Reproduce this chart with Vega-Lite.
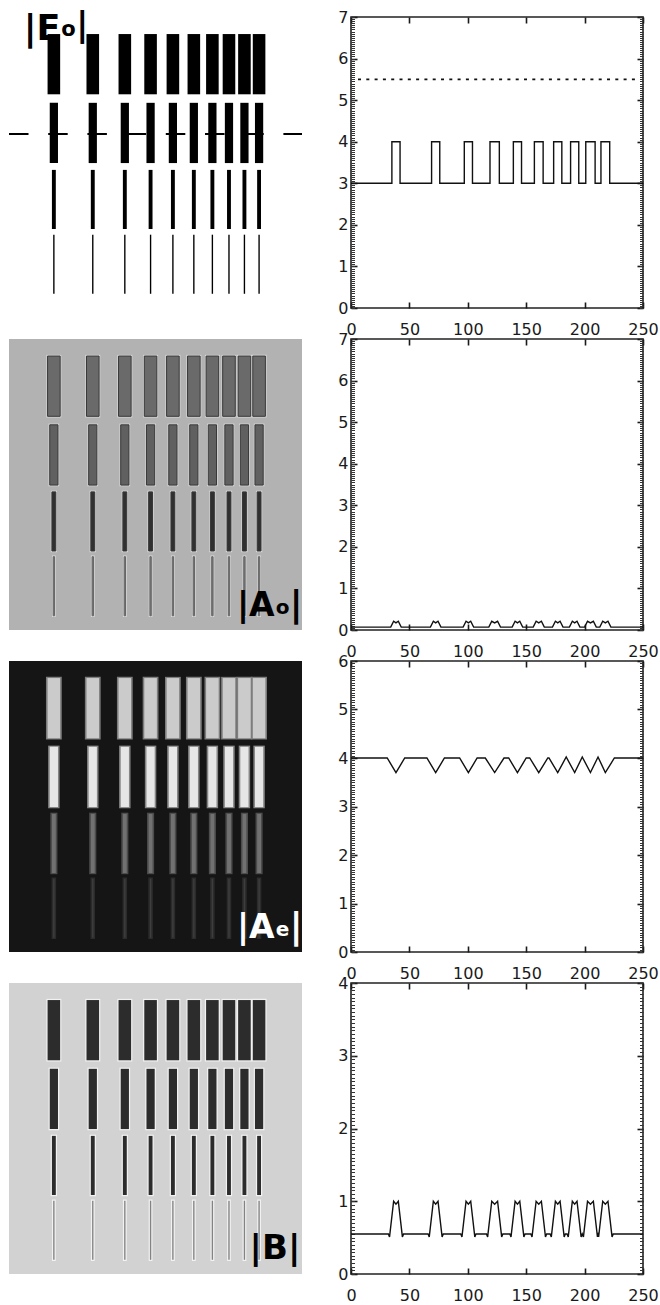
{
"$schema": "https://vega.github.io/schema/vega-lite/v6.json",
"background": "white",
"padding": {"left": 8, "top": 8, "right": 0, "bottom": 0},
"config": {"view": {"stroke": null}, "axis": {"zindex": 1}},
"datasets": {
"bars": [
{"row":1,"col":1,"left":33.7,"right":44.7,"top":15,"bottom":68},
{"row":1,"col":2,"left":67.7,"right":78.7,"top":15,"bottom":68},
{"row":1,"col":3,"left":95.7,"right":106.7,"top":15,"bottom":68},
{"row":1,"col":4,"left":118.2,"right":129.2,"top":15,"bottom":68},
{"row":1,"col":5,"left":137.7,"right":148.7,"top":15,"bottom":68},
{"row":1,"col":6,"left":156.0,"right":167.0,"top":15,"bottom":68},
{"row":1,"col":7,"left":172.2,"right":183.2,"top":15,"bottom":68},
{"row":1,"col":8,"left":186.7,"right":197.7,"top":15,"bottom":68},
{"row":1,"col":9,"left":200.2,"right":211.2,"top":15,"bottom":68},
{"row":1,"col":10,"left":213.0,"right":224.0,"top":15,"bottom":68},
{"row":2,"col":1,"left":35.6,"right":42.8,"top":75.5,"bottom":128.5},
{"row":2,"col":2,"left":69.6,"right":76.8,"top":75.5,"bottom":128.5},
{"row":2,"col":3,"left":97.6,"right":104.8,"top":75.5,"bottom":128.5},
{"row":2,"col":4,"left":120.1,"right":127.3,"top":75.5,"bottom":128.5},
{"row":2,"col":5,"left":139.6,"right":146.8,"top":75.5,"bottom":128.5},
{"row":2,"col":6,"left":157.9,"right":165.1,"top":75.5,"bottom":128.5},
{"row":2,"col":7,"left":174.1,"right":181.3,"top":75.5,"bottom":128.5},
{"row":2,"col":8,"left":188.6,"right":195.8,"top":75.5,"bottom":128.5},
{"row":2,"col":9,"left":202.1,"right":209.3,"top":75.5,"bottom":128.5},
{"row":2,"col":10,"left":214.9,"right":222.1,"top":75.5,"bottom":128.5},
{"row":3,"col":1,"left":37.5,"right":40.9,"top":134.5,"bottom":186.5},
{"row":3,"col":2,"left":71.5,"right":74.9,"top":134.5,"bottom":186.5},
{"row":3,"col":3,"left":99.5,"right":102.9,"top":134.5,"bottom":186.5},
{"row":3,"col":4,"left":122.0,"right":125.4,"top":134.5,"bottom":186.5},
{"row":3,"col":5,"left":141.5,"right":144.9,"top":134.5,"bottom":186.5},
{"row":3,"col":6,"left":159.8,"right":163.2,"top":134.5,"bottom":186.5},
{"row":3,"col":7,"left":176.0,"right":179.4,"top":134.5,"bottom":186.5},
{"row":3,"col":8,"left":190.5,"right":193.9,"top":134.5,"bottom":186.5},
{"row":3,"col":9,"left":204.0,"right":207.4,"top":134.5,"bottom":186.5},
{"row":3,"col":10,"left":216.8,"right":220.2,"top":134.5,"bottom":186.5},
{"row":4,"col":1,"left":38.6,"right":39.8,"top":191.5,"bottom":243.5},
{"row":4,"col":2,"left":72.6,"right":73.8,"top":191.5,"bottom":243.5},
{"row":4,"col":3,"left":100.6,"right":101.8,"top":191.5,"bottom":243.5},
{"row":4,"col":4,"left":123.1,"right":124.3,"top":191.5,"bottom":243.5},
{"row":4,"col":5,"left":142.6,"right":143.8,"top":191.5,"bottom":243.5},
{"row":4,"col":6,"left":160.9,"right":162.1,"top":191.5,"bottom":243.5},
{"row":4,"col":7,"left":177.1,"right":178.3,"top":191.5,"bottom":243.5},
{"row":4,"col":8,"left":191.6,"right":192.8,"top":191.5,"bottom":243.5},
{"row":4,"col":9,"left":205.1,"right":206.3,"top":191.5,"bottom":243.5},
{"row":4,"col":10,"left":217.9,"right":219.1,"top":191.5,"bottom":243.5}
],
"p1": [{"x":0,"y":3},{"x":35,"y":3},{"x":35,"y":4},{"x":42,"y":4},{"x":42,"y":3},{"x":69,"y":3},{"x":69,"y":4},{"x":76,"y":4},{"x":76,"y":3},{"x":97,"y":3},{"x":97,"y":4},{"x":104,"y":4},{"x":104,"y":3},{"x":119,"y":3},{"x":119,"y":4},{"x":127,"y":4},{"x":127,"y":3},{"x":139,"y":3},{"x":139,"y":4},{"x":146,"y":4},{"x":146,"y":3},{"x":157,"y":3},{"x":157,"y":4},{"x":164.5,"y":4},{"x":164.5,"y":3},{"x":173.5,"y":3},{"x":173.5,"y":4},{"x":180.5,"y":4},{"x":180.5,"y":3},{"x":188,"y":3},{"x":188,"y":4},{"x":195,"y":4},{"x":195,"y":3},{"x":201,"y":3},{"x":201,"y":4},{"x":209,"y":4},{"x":209,"y":3},{"x":214,"y":3},{"x":214,"y":4},{"x":221.5,"y":4},{"x":221.5,"y":3},{"x":250,"y":3}],
"p2": [{"x":0,"y":0.07},
{"x":34,"y":0.07},{"x":36.5,"y":0.21},{"x":38.5,"y":0.17},{"x":40.5,"y":0.21},{"x":43,"y":0.07},
{"x":68,"y":0.07},{"x":70.5,"y":0.21},{"x":72.5,"y":0.17},{"x":74.5,"y":0.21},{"x":77,"y":0.07},
{"x":96,"y":0.07},{"x":98.5,"y":0.21},{"x":100.5,"y":0.17},{"x":102.5,"y":0.21},{"x":105,"y":0.07},
{"x":118,"y":0.07},{"x":120.5,"y":0.21},{"x":123,"y":0.17},{"x":125.5,"y":0.21},{"x":128,"y":0.07},
{"x":138,"y":0.07},{"x":140.5,"y":0.21},{"x":142.5,"y":0.17},{"x":144.5,"y":0.21},{"x":147,"y":0.07},
{"x":156,"y":0.07},{"x":158.5,"y":0.21},{"x":160.75,"y":0.17},{"x":163,"y":0.21},{"x":165.5,"y":0.07},
{"x":172.5,"y":0.07},{"x":175,"y":0.21},{"x":177,"y":0.17},{"x":179,"y":0.21},{"x":181.5,"y":0.07},
{"x":187,"y":0.07},{"x":189.5,"y":0.21},{"x":191.5,"y":0.17},{"x":193.5,"y":0.21},{"x":196,"y":0.07},
{"x":200,"y":0.07},{"x":202.5,"y":0.21},{"x":205,"y":0.17},{"x":207.5,"y":0.21},{"x":210,"y":0.07},
{"x":213,"y":0.07},{"x":215.5,"y":0.21},{"x":217.75,"y":0.17},{"x":220,"y":0.21},{"x":222.5,"y":0.07},
{"x":250,"y":0.07}],
"p3": [{"x":0,"y":4},{"x":31,"y":4},{"x":38.5,"y":3.7},{"x":46,"y":4},{"x":65,"y":4},{"x":72.5,"y":3.7},{"x":80,"y":4},{"x":93,"y":4},{"x":100.5,"y":3.7},{"x":108,"y":4},{"x":115,"y":4},{"x":123,"y":3.7},{"x":131,"y":4},{"x":135,"y":4},{"x":142.5,"y":3.7},{"x":150,"y":4},{"x":153,"y":4},{"x":160.75,"y":3.7},{"x":168.5,"y":4},{"x":169.5,"y":4},{"x":177,"y":3.7},{"x":184.25,"y":4.02},{"x":191.5,"y":3.7},{"x":198,"y":4.02},{"x":205,"y":3.7},{"x":211.5,"y":4.02},{"x":217.75,"y":3.7},{"x":225.5,"y":4},{"x":250,"y":4}],
"p4": [{"x":0,"y":0.55},
{"x":32,"y":0.55},{"x":33,"y":0.51},{"x":36.5,"y":1.0},{"x":38.5,"y":0.96},{"x":40.5,"y":1.0},{"x":44,"y":0.51},{"x":45,"y":0.55},
{"x":66,"y":0.55},{"x":67,"y":0.51},{"x":70.5,"y":1.0},{"x":72.5,"y":0.96},{"x":74.5,"y":1.0},{"x":78,"y":0.51},{"x":79,"y":0.55},
{"x":94,"y":0.55},{"x":95,"y":0.51},{"x":98.5,"y":1.0},{"x":100.5,"y":0.96},{"x":102.5,"y":1.0},{"x":106,"y":0.51},{"x":107,"y":0.55},
{"x":116,"y":0.55},{"x":117,"y":0.51},{"x":120.5,"y":1.0},{"x":123,"y":0.96},{"x":125.5,"y":1.0},{"x":129,"y":0.51},{"x":130,"y":0.55},
{"x":136,"y":0.55},{"x":137,"y":0.51},{"x":140.5,"y":1.0},{"x":142.5,"y":0.96},{"x":144.5,"y":1.0},{"x":148,"y":0.51},{"x":149,"y":0.55},
{"x":154,"y":0.55},{"x":155,"y":0.51},{"x":158.5,"y":1.0},{"x":160.75,"y":0.96},{"x":163,"y":1.0},{"x":166.5,"y":0.51},{"x":167.5,"y":0.55},
{"x":170.5,"y":0.55},{"x":171.5,"y":0.51},{"x":175,"y":1.0},{"x":177,"y":0.96},{"x":179,"y":1.0},{"x":182.5,"y":0.51},{"x":183.5,"y":0.55},
{"x":185,"y":0.55},{"x":186,"y":0.51},{"x":189.5,"y":1.0},{"x":191.5,"y":0.96},{"x":193.5,"y":1.0},{"x":197,"y":0.51},{"x":198,"y":0.55},
{"x":199,"y":0.51},{"x":202.5,"y":1.0},{"x":205,"y":0.96},{"x":207.5,"y":1.0},{"x":211,"y":0.51},
{"x":211.5,"y":0.54},{"x":212,"y":0.51},{"x":215.5,"y":1.0},{"x":217.75,"y":0.96},{"x":220,"y":1.0},{"x":223.5,"y":0.51},{"x":224.5,"y":0.55},
{"x":250,"y":0.55}]
},
"columns": 2,
"spacing": {"row": 31, "column": 49},
"bounds": "flush",
"concat": [
{
 "width": 293, "height": 291,
 "view": {"fill": "white", "stroke": null},
 "layer": [
  {"data": {"name": "bars"}, "mark": {"type": "rect", "color": "black"},
   "encoding": {
    "x": {"field": "left", "type": "quantitative", "scale": {"domain": [0,256], "nice": false}, "axis": null},
    "x2": {"field": "right"},
    "y": {"field": "top", "type": "quantitative", "scale": {"domain": [0,256], "nice": false, "reverse": true}, "axis": null},
    "y2": {"field": "bottom"}}},
  {"data": {"values": [{}]}, "mark": {"type": "rule", "color": "black", "strokeWidth": 2, "strokeDash": [19.5, 19.7]},
   "encoding": {
    "x": {"datum": 0, "type": "quantitative", "scale": {"domain": [0,256], "nice": false}, "axis": null},
    "x2": {"datum": 256},
    "y": {"datum": 103, "type": "quantitative", "scale": {"domain": [0,256], "nice": false, "reverse": true}, "axis": null}}},
  {"data": {"values": [{}]}, "mark": {"type": "text", "text": "|E", "font": "DejaVu Sans", "fontWeight": "bold", "fontSize": 35, "align": "left", "baseline": "alphabetic", "color": "black"},
   "encoding": {
    "x": {"datum": 12.8, "type": "quantitative", "scale": {"domain": [0,256], "nice": false}, "axis": null},
    "y": {"datum": 20.2, "type": "quantitative", "scale": {"domain": [0,256], "nice": false, "reverse": true}, "axis": null}}},
  {"data": {"values": [{}]}, "mark": {"type": "text", "text": "o", "font": "DejaVu Sans", "fontWeight": "bold", "fontSize": 21, "align": "left", "baseline": "alphabetic", "color": "black"},
   "encoding": {
    "x": {"datum": 45.6, "type": "quantitative", "scale": {"domain": [0,256], "nice": false}, "axis": null},
    "y": {"datum": 16.7, "type": "quantitative", "scale": {"domain": [0,256], "nice": false, "reverse": true}, "axis": null}}},
  {"data": {"values": [{}]}, "mark": {"type": "text", "text": "|", "font": "DejaVu Sans", "fontWeight": "bold", "fontSize": 33, "align": "left", "baseline": "alphabetic", "color": "black"},
   "encoding": {
    "x": {"datum": 58.8, "type": "quantitative", "scale": {"domain": [0,256], "nice": false}, "axis": null},
    "y": {"datum": 16.9, "type": "quantitative", "scale": {"domain": [0,256], "nice": false, "reverse": true}, "axis": null}}}
 ]
},
{
 "width": 292, "height": 291,
 "view": {"stroke": "#222222", "strokeWidth": 1.6},
 "resolve": {"axis": {"x": "independent", "y": "independent"}},
 "layer": [
  {"data": {"name": "p1"}, "mark": {"type": "line", "color": "#111111", "strokeWidth": 1.4, "clip": true},
   "encoding": {
    "x": {"field": "x", "type": "quantitative", "scale": {"domain": [0,250], "nice": false},
      "axis": {"orient": "bottom", "values": [0,50,100,150,200,250], "offset": -6, "tickSize": 6, "tickColor": "#1a1a1a", "tickWidth": 1.6, "domain": false, "grid": false, "title": null, "labelFont": "DejaVu Sans", "labelFontSize": 16, "labelColor": "#1a1a1a", "labelPadding": 13, "labelFlush": false, "labelOverlap": false, "format": "d"}},
    "y": {"field": "y", "type": "quantitative", "scale": {"domain": [0,7], "nice": false},
      "axis": {"orient": "left", "values": [0,1,2,3,4,5,6,7], "offset": -6, "tickSize": 6, "tickColor": "#1a1a1a", "tickWidth": 1.6, "domain": false, "grid": false, "title": null, "labelFont": "DejaVu Sans", "labelFontSize": 16, "labelColor": "#1a1a1a", "labelPadding": 3, "labelFlush": false, "labelOverlap": false, "format": "d"}},
    "order": {"value": null}}},
  {"data": {"values": [{}]}, "mark": {"type": "rule", "color": "#111111", "strokeWidth": 1.6, "strokeDash": [3, 5.3]},
   "encoding": {
    "x": {"datum": 6, "type": "quantitative", "scale": {"domain": [0,250], "nice": false},
      "axis": {"orient": "top", "values": [0,50,100,150,200,250], "offset": -6, "tickSize": 6, "tickColor": "#1a1a1a", "tickWidth": 1.6, "labels": false, "domain": false, "grid": false, "title": null}},
    "x2": {"datum": 246},
    "y": {"datum": 5.5, "type": "quantitative", "scale": {"domain": [0,7], "nice": false},
      "axis": {"orient": "right", "values": [0,1,2,3,4,5,6,7], "offset": -6, "tickSize": 6, "tickColor": "#1a1a1a", "tickWidth": 1.6, "labels": false, "domain": false, "grid": false, "title": null}}}},
  {"data": {"name": "p1"}, "mark": {"type": "line", "opacity": 0},
   "encoding": {
    "x": {"field": "x", "type": "quantitative", "scale": {"domain": [0,250], "nice": false}, "axis": null},
    "y": {"field": "y", "type": "quantitative", "scale": {"domain": [0,7], "nice": false},
      "axis": {"orient": "left", "tickCount": 140, "offset": -3.5, "tickSize": 3.5, "tickColor": "#333333", "tickWidth": 1, "labels": false, "domain": false, "grid": false, "title": null}},
    "order": {"value": null}}},
  {"data": {"name": "p1"}, "mark": {"type": "line", "opacity": 0},
   "encoding": {
    "x": {"field": "x", "type": "quantitative", "scale": {"domain": [0,250], "nice": false}, "axis": null},
    "y": {"field": "y", "type": "quantitative", "scale": {"domain": [0,7], "nice": false},
      "axis": {"orient": "right", "tickCount": 140, "offset": -3.5, "tickSize": 3.5, "tickColor": "#333333", "tickWidth": 1, "labels": false, "domain": false, "grid": false, "title": null}},
    "order": {"value": null}}}
 ]
},
{
 "width": 293, "height": 291,
 "view": {"fill": "#b2b2b2", "stroke": null},
 "layer": [
  {"data": {"name": "bars"}, "mark": {"type": "rect", "color": "#d8d8d8", "xOffset": -1.2, "x2Offset": 1.2, "yOffset": -1.2, "y2Offset": 1.2},
   "encoding": {
    "x": {"field": "left", "type": "quantitative", "scale": {"domain": [0,256], "nice": false}, "axis": null},
    "x2": {"field": "right"},
    "y": {"field": "top", "type": "quantitative", "scale": {"domain": [0,256], "nice": false, "reverse": true}, "axis": null},
    "y2": {"field": "bottom"}}},
  {"data": {"name": "bars"}, "mark": {"type": "rect", "strokeWidth": 1},
   "encoding": {
    "x": {"field": "left", "type": "quantitative", "scale": {"domain": [0,256], "nice": false}, "axis": null},
    "x2": {"field": "right"},
    "y": {"field": "top", "type": "quantitative", "scale": {"domain": [0,256], "nice": false, "reverse": true}, "axis": null},
    "y2": {"field": "bottom"},
    "color": {"condition": [{"test": "datum.row == 1", "value": "#6a6a6a"}, {"test": "datum.row == 2", "value": "#606060"}, {"test": "datum.row == 3", "value": "#303030"}], "value": "#787878"},
    "stroke": {"condition": {"test": "datum.row == 4", "value": "#666666"}, "value": "#383838"}}},
  {"data": {"values": [{}]}, "mark": {"type": "text", "text": "|A", "font": "DejaVu Sans", "fontWeight": "bold", "fontSize": 33, "align": "left", "baseline": "alphabetic", "color": "black"},
   "encoding": {
    "x": {"datum": 199.2, "type": "quantitative", "scale": {"domain": [0,256], "nice": false}, "axis": null},
    "y": {"datum": 243.7, "type": "quantitative", "scale": {"domain": [0,256], "nice": false, "reverse": true}, "axis": null}}},
  {"data": {"values": [{}]}, "mark": {"type": "text", "text": "o", "font": "DejaVu Sans", "fontWeight": "bold", "fontSize": 20, "align": "left", "baseline": "alphabetic", "color": "black"},
   "encoding": {
    "x": {"datum": 233.0, "type": "quantitative", "scale": {"domain": [0,256], "nice": false}, "axis": null},
    "y": {"datum": 241.9, "type": "quantitative", "scale": {"domain": [0,256], "nice": false, "reverse": true}, "axis": null}}},
  {"data": {"values": [{}]}, "mark": {"type": "text", "text": "|", "font": "DejaVu Sans", "fontWeight": "bold", "fontSize": 35, "align": "left", "baseline": "alphabetic", "color": "black"},
   "encoding": {
    "x": {"datum": 245.4, "type": "quantitative", "scale": {"domain": [0,256], "nice": false}, "axis": null},
    "y": {"datum": 243.6, "type": "quantitative", "scale": {"domain": [0,256], "nice": false, "reverse": true}, "axis": null}}}
 ]
},
{
 "width": 292, "height": 291,
 "view": {"stroke": "#222222", "strokeWidth": 1.6},
 "resolve": {"axis": {"x": "independent", "y": "independent"}},
 "layer": [
  {"data": {"name": "p2"}, "mark": {"type": "line", "color": "#111111", "strokeWidth": 1.4, "clip": true},
   "encoding": {
    "x": {"field": "x", "type": "quantitative", "scale": {"domain": [0,250], "nice": false},
      "axis": {"orient": "bottom", "values": [0,50,100,150,200,250], "offset": -6, "tickSize": 6, "tickColor": "#1a1a1a", "tickWidth": 1.6, "domain": false, "grid": false, "title": null, "labelFont": "DejaVu Sans", "labelFontSize": 16, "labelColor": "#1a1a1a", "labelPadding": 13, "labelFlush": false, "labelOverlap": false, "format": "d"}},
    "y": {"field": "y", "type": "quantitative", "scale": {"domain": [0,7], "nice": false},
      "axis": {"orient": "left", "values": [0,1,2,3,4,5,6,7], "offset": -6, "tickSize": 6, "tickColor": "#1a1a1a", "tickWidth": 1.6, "domain": false, "grid": false, "title": null, "labelFont": "DejaVu Sans", "labelFontSize": 16, "labelColor": "#1a1a1a", "labelPadding": 3, "labelFlush": false, "labelOverlap": false, "format": "d"}},
    "order": {"value": null}}},
  {"data": {"name": "p2"}, "mark": {"type": "line", "opacity": 0},
   "encoding": {
    "x": {"field": "x", "type": "quantitative", "scale": {"domain": [0,250], "nice": false},
      "axis": {"orient": "top", "values": [0,50,100,150,200,250], "offset": -6, "tickSize": 6, "tickColor": "#1a1a1a", "tickWidth": 1.6, "labels": false, "domain": false, "grid": false, "title": null}},
    "y": {"field": "y", "type": "quantitative", "scale": {"domain": [0,7], "nice": false},
      "axis": {"orient": "right", "values": [0,1,2,3,4,5,6,7], "offset": -6, "tickSize": 6, "tickColor": "#1a1a1a", "tickWidth": 1.6, "labels": false, "domain": false, "grid": false, "title": null}},
    "order": {"value": null}}},
  {"data": {"name": "p2"}, "mark": {"type": "line", "opacity": 0},
   "encoding": {
    "x": {"field": "x", "type": "quantitative", "scale": {"domain": [0,250], "nice": false}, "axis": null},
    "y": {"field": "y", "type": "quantitative", "scale": {"domain": [0,7], "nice": false},
      "axis": {"orient": "left", "tickCount": 140, "offset": -3.5, "tickSize": 3.5, "tickColor": "#333333", "tickWidth": 1, "labels": false, "domain": false, "grid": false, "title": null}},
    "order": {"value": null}}},
  {"data": {"name": "p2"}, "mark": {"type": "line", "opacity": 0},
   "encoding": {
    "x": {"field": "x", "type": "quantitative", "scale": {"domain": [0,250], "nice": false}, "axis": null},
    "y": {"field": "y", "type": "quantitative", "scale": {"domain": [0,7], "nice": false},
      "axis": {"orient": "right", "tickCount": 140, "offset": -3.5, "tickSize": 3.5, "tickColor": "#333333", "tickWidth": 1, "labels": false, "domain": false, "grid": false, "title": null}},
    "order": {"value": null}}}
 ]
},
{
 "width": 293, "height": 291,
 "view": {"fill": "#151515", "stroke": null},
 "layer": [
  {"data": {"name": "bars"}, "mark": {"type": "rect", "xOffset": -1.6, "x2Offset": 1.6, "yOffset": -1.2, "y2Offset": 1.2},
   "encoding": {
    "x": {"field": "left", "type": "quantitative", "scale": {"domain": [0,256], "nice": false}, "axis": null},
    "x2": {"field": "right"},
    "y": {"field": "top", "type": "quantitative", "scale": {"domain": [0,256], "nice": false, "reverse": true}, "axis": null},
    "y2": {"field": "bottom"},
    "color": {"condition": [{"test": "datum.row == 1", "value": "#7d7d7d"}, {"test": "datum.row == 2", "value": "#858585"}, {"test": "datum.row == 3", "value": "#4c4c4c"}], "value": "#2b2b2b"}}},
  {"data": {"name": "bars"}, "mark": {"type": "rect"},
   "encoding": {
    "x": {"field": "left", "type": "quantitative", "scale": {"domain": [0,256], "nice": false}, "axis": null},
    "x2": {"field": "right"},
    "y": {"field": "top", "type": "quantitative", "scale": {"domain": [0,256], "nice": false, "reverse": true}, "axis": null},
    "y2": {"field": "bottom"},
    "color": {"condition": [{"test": "datum.row == 1", "value": "#cbcbcb"}, {"test": "datum.row == 2", "value": "#e6e6e6"}, {"test": "datum.row == 3", "value": "#717171"}], "value": "#3e3e3e"}}},
  {"data": {"values": [{}]}, "mark": {"type": "text", "text": "|A", "font": "DejaVu Sans", "fontWeight": "bold", "fontSize": 33, "align": "left", "baseline": "alphabetic", "color": "white"},
   "encoding": {
    "x": {"datum": 199.2, "type": "quantitative", "scale": {"domain": [0,256], "nice": false}, "axis": null},
    "y": {"datum": 243.7, "type": "quantitative", "scale": {"domain": [0,256], "nice": false, "reverse": true}, "axis": null}}},
  {"data": {"values": [{}]}, "mark": {"type": "text", "text": "e", "font": "DejaVu Sans", "fontWeight": "bold", "fontSize": 20, "align": "left", "baseline": "alphabetic", "color": "white"},
   "encoding": {
    "x": {"datum": 233.0, "type": "quantitative", "scale": {"domain": [0,256], "nice": false}, "axis": null},
    "y": {"datum": 241.9, "type": "quantitative", "scale": {"domain": [0,256], "nice": false, "reverse": true}, "axis": null}}},
  {"data": {"values": [{}]}, "mark": {"type": "text", "text": "|", "font": "DejaVu Sans", "fontWeight": "bold", "fontSize": 35, "align": "left", "baseline": "alphabetic", "color": "white"},
   "encoding": {
    "x": {"datum": 245.4, "type": "quantitative", "scale": {"domain": [0,256], "nice": false}, "axis": null},
    "y": {"datum": 243.6, "type": "quantitative", "scale": {"domain": [0,256], "nice": false, "reverse": true}, "axis": null}}}
 ]
},
{
 "width": 292, "height": 291,
 "view": {"stroke": "#222222", "strokeWidth": 1.6},
 "resolve": {"axis": {"x": "independent", "y": "independent"}},
 "layer": [
  {"data": {"name": "p3"}, "mark": {"type": "line", "color": "#111111", "strokeWidth": 1.4, "clip": true},
   "encoding": {
    "x": {"field": "x", "type": "quantitative", "scale": {"domain": [0,250], "nice": false},
      "axis": {"orient": "bottom", "values": [0,50,100,150,200,250], "offset": -6, "tickSize": 6, "tickColor": "#1a1a1a", "tickWidth": 1.6, "domain": false, "grid": false, "title": null, "labelFont": "DejaVu Sans", "labelFontSize": 16, "labelColor": "#1a1a1a", "labelPadding": 13, "labelFlush": false, "labelOverlap": false, "format": "d"}},
    "y": {"field": "y", "type": "quantitative", "scale": {"domain": [0,6], "nice": false},
      "axis": {"orient": "left", "values": [0,1,2,3,4,5,6], "offset": -6, "tickSize": 6, "tickColor": "#1a1a1a", "tickWidth": 1.6, "domain": false, "grid": false, "title": null, "labelFont": "DejaVu Sans", "labelFontSize": 16, "labelColor": "#1a1a1a", "labelPadding": 3, "labelFlush": false, "labelOverlap": false, "format": "d"}},
    "order": {"value": null}}},
  {"data": {"name": "p3"}, "mark": {"type": "line", "opacity": 0},
   "encoding": {
    "x": {"field": "x", "type": "quantitative", "scale": {"domain": [0,250], "nice": false},
      "axis": {"orient": "top", "values": [0,50,100,150,200,250], "offset": -6, "tickSize": 6, "tickColor": "#1a1a1a", "tickWidth": 1.6, "labels": false, "domain": false, "grid": false, "title": null}},
    "y": {"field": "y", "type": "quantitative", "scale": {"domain": [0,6], "nice": false},
      "axis": {"orient": "right", "values": [0,1,2,3,4,5,6], "offset": -6, "tickSize": 6, "tickColor": "#1a1a1a", "tickWidth": 1.6, "labels": false, "domain": false, "grid": false, "title": null}},
    "order": {"value": null}}},
  {"data": {"name": "p3"}, "mark": {"type": "line", "opacity": 0},
   "encoding": {
    "x": {"field": "x", "type": "quantitative", "scale": {"domain": [0,250], "nice": false}, "axis": null},
    "y": {"field": "y", "type": "quantitative", "scale": {"domain": [0,6], "nice": false},
      "axis": {"orient": "left", "tickCount": 120, "offset": -3.5, "tickSize": 3.5, "tickColor": "#333333", "tickWidth": 1, "labels": false, "domain": false, "grid": false, "title": null}},
    "order": {"value": null}}},
  {"data": {"name": "p3"}, "mark": {"type": "line", "opacity": 0},
   "encoding": {
    "x": {"field": "x", "type": "quantitative", "scale": {"domain": [0,250], "nice": false}, "axis": null},
    "y": {"field": "y", "type": "quantitative", "scale": {"domain": [0,6], "nice": false},
      "axis": {"orient": "right", "tickCount": 120, "offset": -3.5, "tickSize": 3.5, "tickColor": "#333333", "tickWidth": 1, "labels": false, "domain": false, "grid": false, "title": null}},
    "order": {"value": null}}}
 ]
},
{
 "width": 293, "height": 291,
 "view": {"fill": "#d2d2d2", "stroke": null},
 "layer": [
  {"data": {"name": "bars"}, "mark": {"type": "rect", "color": "#f2f2f2", "xOffset": -1.2, "x2Offset": 1.2, "yOffset": -1.2, "y2Offset": 1.2},
   "encoding": {
    "x": {"field": "left", "type": "quantitative", "scale": {"domain": [0,256], "nice": false}, "axis": null},
    "x2": {"field": "right"},
    "y": {"field": "top", "type": "quantitative", "scale": {"domain": [0,256], "nice": false, "reverse": true}, "axis": null},
    "y2": {"field": "bottom"}}},
  {"data": {"name": "bars"}, "mark": {"type": "rect"},
   "encoding": {
    "x": {"field": "left", "type": "quantitative", "scale": {"domain": [0,256], "nice": false}, "axis": null},
    "x2": {"field": "right"},
    "y": {"field": "top", "type": "quantitative", "scale": {"domain": [0,256], "nice": false, "reverse": true}, "axis": null},
    "y2": {"field": "bottom"},
    "color": {"condition": {"test": "datum.row == 4", "value": "#838383"}, "value": "#2c2c2c"}}},
  {"data": {"values": [{}]}, "mark": {"type": "text", "text": "|B|", "font": "DejaVu Sans", "fontWeight": "bold", "fontSize": 34, "align": "center", "baseline": "alphabetic", "color": "black"},
   "encoding": {
    "x": {"datum": 232.4, "type": "quantitative", "scale": {"domain": [0,256], "nice": false}, "axis": null},
    "y": {"datum": 242.8, "type": "quantitative", "scale": {"domain": [0,256], "nice": false, "reverse": true}, "axis": null}}}
 ]
},
{
 "width": 292, "height": 291,
 "view": {"stroke": "#222222", "strokeWidth": 1.6},
 "resolve": {"axis": {"x": "independent", "y": "independent"}},
 "layer": [
  {"data": {"name": "p4"}, "mark": {"type": "line", "color": "#111111", "strokeWidth": 1.4, "clip": true},
   "encoding": {
    "x": {"field": "x", "type": "quantitative", "scale": {"domain": [0,250], "nice": false},
      "axis": {"orient": "bottom", "values": [0,50,100,150,200,250], "offset": -6, "tickSize": 6, "tickColor": "#1a1a1a", "tickWidth": 1.6, "domain": false, "grid": false, "title": null, "labelFont": "DejaVu Sans", "labelFontSize": 16, "labelColor": "#1a1a1a", "labelPadding": 13, "labelFlush": false, "labelOverlap": false, "format": "d"}},
    "y": {"field": "y", "type": "quantitative", "scale": {"domain": [0,4], "nice": false},
      "axis": {"orient": "left", "values": [0,1,2,3,4], "offset": -6, "tickSize": 6, "tickColor": "#1a1a1a", "tickWidth": 1.6, "domain": false, "grid": false, "title": null, "labelFont": "DejaVu Sans", "labelFontSize": 16, "labelColor": "#1a1a1a", "labelPadding": 3, "labelFlush": false, "labelOverlap": false, "format": "d"}},
    "order": {"value": null}}},
  {"data": {"name": "p4"}, "mark": {"type": "line", "opacity": 0},
   "encoding": {
    "x": {"field": "x", "type": "quantitative", "scale": {"domain": [0,250], "nice": false},
      "axis": {"orient": "top", "values": [0,50,100,150,200,250], "offset": -6, "tickSize": 6, "tickColor": "#1a1a1a", "tickWidth": 1.6, "labels": false, "domain": false, "grid": false, "title": null}},
    "y": {"field": "y", "type": "quantitative", "scale": {"domain": [0,4], "nice": false},
      "axis": {"orient": "right", "values": [0,1,2,3,4], "offset": -6, "tickSize": 6, "tickColor": "#1a1a1a", "tickWidth": 1.6, "labels": false, "domain": false, "grid": false, "title": null}},
    "order": {"value": null}}},
  {"data": {"name": "p4"}, "mark": {"type": "line", "opacity": 0},
   "encoding": {
    "x": {"field": "x", "type": "quantitative", "scale": {"domain": [0,250], "nice": false}, "axis": null},
    "y": {"field": "y", "type": "quantitative", "scale": {"domain": [0,4], "nice": false},
      "axis": {"orient": "left", "tickCount": 80, "offset": -3.5, "tickSize": 3.5, "tickColor": "#333333", "tickWidth": 1, "labels": false, "domain": false, "grid": false, "title": null}},
    "order": {"value": null}}},
  {"data": {"name": "p4"}, "mark": {"type": "line", "opacity": 0},
   "encoding": {
    "x": {"field": "x", "type": "quantitative", "scale": {"domain": [0,250], "nice": false}, "axis": null},
    "y": {"field": "y", "type": "quantitative", "scale": {"domain": [0,4], "nice": false},
      "axis": {"orient": "right", "tickCount": 80, "offset": -3.5, "tickSize": 3.5, "tickColor": "#333333", "tickWidth": 1, "labels": false, "domain": false, "grid": false, "title": null}},
    "order": {"value": null}}}
 ]
}
]
}
